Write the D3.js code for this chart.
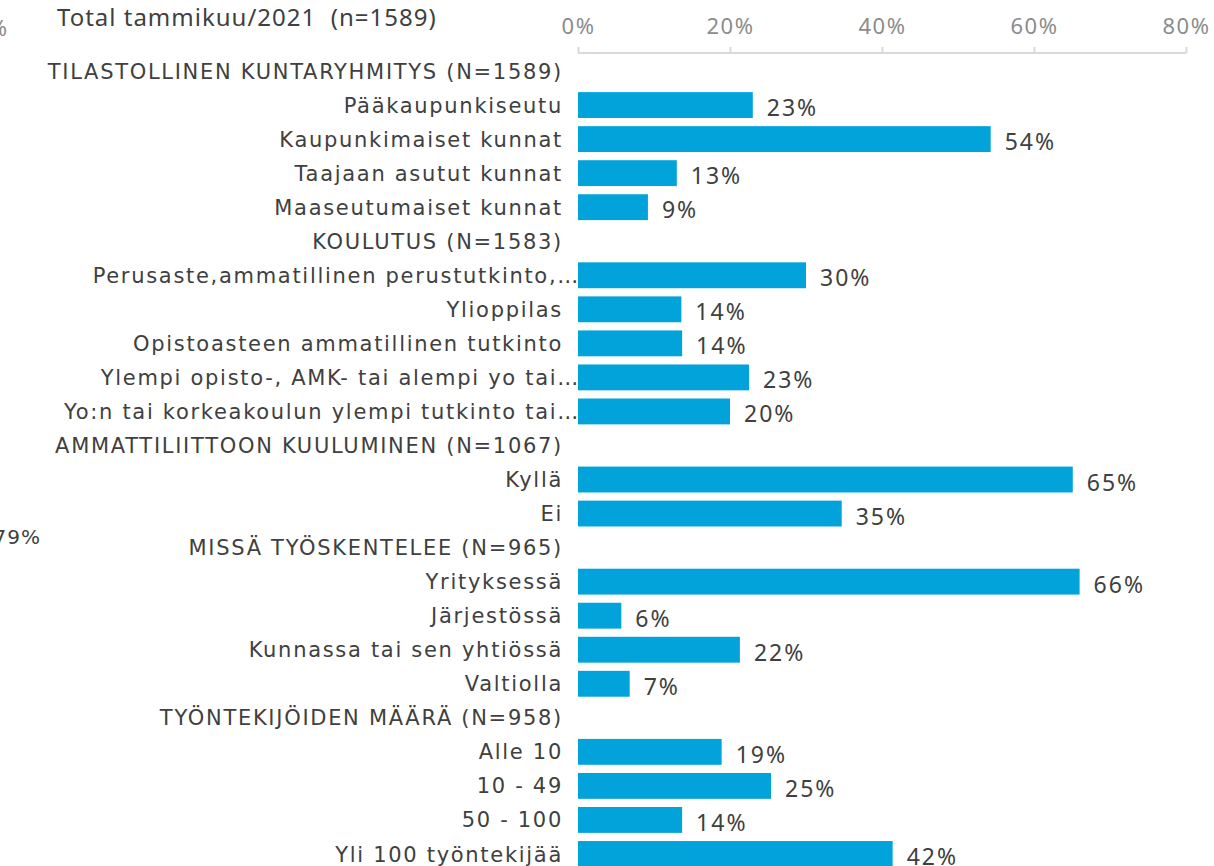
<html>
<head>
    <script src="https://cdnjs.cloudflare.com/ajax/libs/d3/7.8.5/d3.min.js"></script>
    <style>
        body { margin: 0; background: #fff; }
    </style>
</head>
<body>
    <script>
        // rows top to bottom; header rows have value null
        var labels = [
            "TILASTOLLINEN KUNTARYHMITYS (N=1589)",
            "Pääkaupunkiseutu",
            "Kaupunkimaiset kunnat",
            "Taajaan asutut kunnat",
            "Maaseutumaiset kunnat",
            "KOULUTUS (N=1583)",
            "Perusaste,ammatillinen perustutkinto,…",
            "Ylioppilas",
            "Opistoasteen ammatillinen tutkinto",
            "Ylempi opisto-, AMK- tai alempi yo tai…",
            "Yo:n tai korkeakoulun ylempi tutkinto tai…",
            "AMMATTILIITTOON KUULUMINEN (N=1067)",
            "Kyllä",
            "Ei",
            "MISSÄ TYÖSKENTELEE (N=965)",
            "Yrityksessä",
            "Järjestössä",
            "Kunnassa tai sen yhtiössä",
            "Valtiolla",
            "TYÖNTEKIJÖIDEN MÄÄRÄ (N=958)",
            "Alle 10",
            "10 - 49",
            "50 - 100",
            "Yli 100 työntekijää"
        ];
        var values = [
            null, 0.23, 0.543, 0.13, 0.092,
            null, 0.30, 0.136, 0.137, 0.225, 0.20,
            null, 0.651, 0.347,
            null, 0.66, 0.057, 0.213, 0.068,
            null, 0.189, 0.254, 0.137, 0.414
        ];
        var valueText = [
            "", "23%", "54%", "13%", "9%",
            "", "30%", "14%", "14%", "23%", "20%",
            "", "65%", "35%",
            "", "66%", "6%", "22%", "7%",
            "", "19%", "25%", "14%", "42%"
        ];
        var ticks = [0, 0.2, 0.4, 0.6, 0.8];

        var w = 1214, h = 866;
        var labelFont = "'DejaVu Sans', Verdana, sans-serif";
        var numFont = "'Noto Sans', 'Open Sans', sans-serif";

        var svg = d3.select("body").append("svg")
            .attr("width", w)
            .attr("height", h);

        var x = d3.scaleLinear().domain([0, 0.8]).range([578, 1186]);
        var y = d3.scaleBand()
            .domain(d3.range(labels.length))
            .range([54, 871])
            .paddingInner(0.24)
            .paddingOuter(0.12);

        // title
        svg.append("text")
            .attr("x", 57).attr("y", 26)
            .style("font-family", numFont)
            .style("font-size", "24px")
            .style("letter-spacing", "1px")
            .style("white-space", "pre")
            .style("fill", "#404040")
            .text("Total tammikuu/2021  (n=1589)");

        // leftovers of the neighbouring chart
        svg.append("text")
            .attr("x", 7).attr("y", 36)
            .attr("text-anchor", "end")
            .style("font-family", numFont)
            .style("font-size", "22px")
            .style("fill", "#8c8c8c")
            .text("%");
        svg.append("text")
            .attr("x", 41).attr("y", 544)
            .attr("text-anchor", "end")
            .style("font-family", labelFont)
            .style("font-size", "20px")
            .style("letter-spacing", "1px")
            .style("fill", "#404040")
            .text("79%");

        // top axis
        var axis = svg.append("g")
            .attr("transform", "translate(0,53)")
            .call(d3.axisTop(x).tickValues(ticks).tickFormat(d3.format(".0%")).tickSize(6).tickPadding(13));
        axis.select(".domain").attr("stroke", "#d9d9d9").attr("stroke-width", 2)
            .attr("d", "M" + x(0) + ",0H" + x(0.8));
        axis.selectAll(".tick line").attr("stroke", "#d9d9d9").attr("stroke-width", 2);
        axis.selectAll(".tick text")
            .style("font-family", numFont)
            .style("font-size", "22px")
            .style("letter-spacing", "1.5px")
            .style("fill", "#8c8c8c");

        var rows = d3.range(labels.length);

        // category labels (truncated ones run up to the bar)
        svg.selectAll("text.lab")
            .data(rows)
            .enter()
            .append("text")
            .attr("class", "lab")
            .attr("x", function (i) { return labels[i].slice(-1) === "…" ? 580 : 563; })
            .attr("y", function (i) { return y(i) + y.bandwidth() / 2; })
            .attr("dy", "0.36em")
            .attr("text-anchor", "end")
            .style("font-family", labelFont)
            .style("font-size", "21px")
            .style("letter-spacing", "1.7px")
            .style("fill", "#404040")
            .text(function (i) { return labels[i]; });

        var dataRows = rows.filter(function (i) { return values[i] !== null; });

        svg.selectAll("rect.bar")
            .data(dataRows)
            .enter()
            .append("rect")
            .attr("class", "bar")
            .attr("x", x(0))
            .attr("y", function (i) { return y(i); })
            .attr("width", function (i) { return x(values[i]) - x(0); })
            .attr("height", y.bandwidth())
            .style("fill", "#02A3DA");

        svg.selectAll("text.val")
            .data(dataRows)
            .enter()
            .append("text")
            .attr("class", "val")
            .attr("x", function (i) { return x(values[i]) + 14; })
            .attr("y", function (i) { return y(i) + y.bandwidth() / 2 + 3; })
            .attr("dy", "0.35em")
            .style("font-family", numFont)
            .style("font-size", "23px")
            .style("letter-spacing", "2px")
            .style("fill", "#404040")
            .text(function (i) { return valueText[i]; });
    </script>
</body>
</html>
